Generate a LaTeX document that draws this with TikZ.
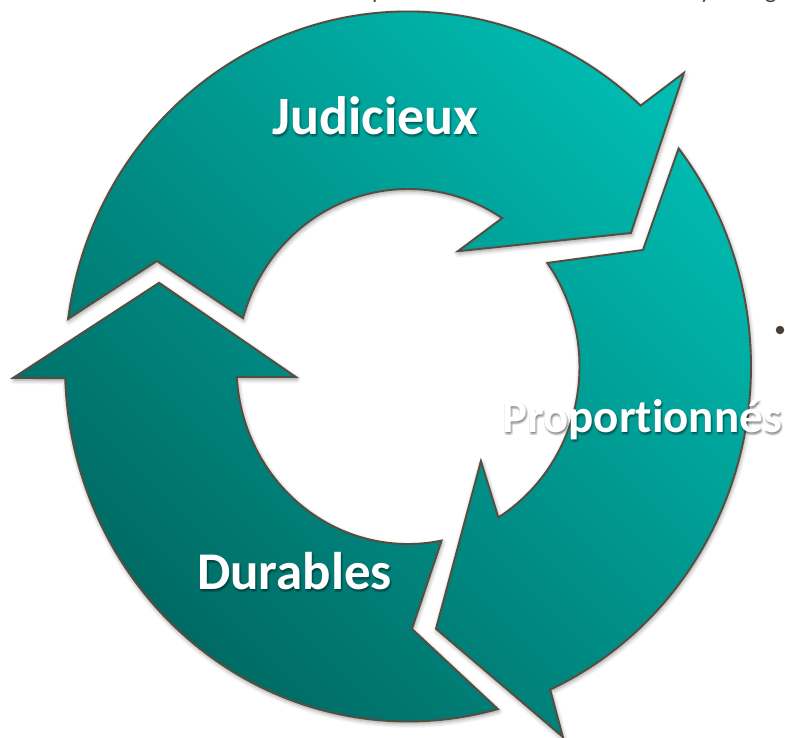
\documentclass[tikz,border=0pt]{standalone}
\usepackage{fontspec}
\setmainfont{Carlito}[Ligatures=CommonOff]
\usetikzlibrary{shadows.blur}
\definecolor{tealL}{RGB}{0,188,178}
\definecolor{tealD}{RGB}{0,102,96}
\definecolor{edgec}{RGB}{88,76,62}
\definecolor{fragc}{RGB}{70,62,52}
\tikzset{
  ring/.style={draw=edgec, line width=1.9pt, line join=miter,
    top color=tealL, bottom color=tealD, shading angle=-45,
    blur shadow={shadow xshift=0.8pt, shadow yshift=-2.2pt, shadow blur radius=4.5pt, shadow opacity=40, shadow blur steps=8}},
  lbl/.style={text=white, font=\bfseries\fontsize{#1}{#1}\selectfont, inner sep=0pt},
  lblglow/.style={text=black, text opacity=0.11, font=\bfseries\fontsize{#1}{#1}\selectfont, inner sep=0pt},
  frag/.style={text=fragc, font=\fontsize{24}{24}\selectfont, inner sep=0pt, anchor=base west}
}
\newcommand\glowlabel[6]{%
  \foreach \dx/\dy [count=\k] in {0/-1,2/-1,0/-3,2/-3,1/-2}
    {\node[lblglow=#4, anchor=#5] (#1g\k) at (#2+\dx,#3+\dy) {#6};}
  \node[lbl=#4, anchor=#5] (#1) at (#2,#3) {#6};
}
\begin{document}
\begin{tikzpicture}[x=1pt,y=1pt]
\useasboundingbox (0,0) rectangle (785,-738);
\begin{scope}[shift={(408,-366.5)}, yscale=1.035]
\shadedraw[ring]
  (172.3:343) arc[start angle=172.3, end angle=47.3, radius=343]
  -- (45.8:395.7) -- (30.05:257.6) -- (65.9:122) -- (56.7:171.5)
  arc[start angle=56.7, end angle=164.2, radius=171.5] -- (157.9:271) -- cycle
  (37.9:343) arc[start angle=37.9, end angle=-65.5, radius=343]
  -- (-66.6:390) -- (-83.7:255) -- (-51.4:116.9) -- (-58.2:171.5)
  arc[start angle=-58.2, end angle=35.7, radius=171.5] -- (25.6:260.6) -- cycle
  (-74.8:343) arc[start angle=-74.8, end angle=-178.1, radius=343]
  -- (-178.4:395) -- (-198:261.7) -- (-174.8:112.5) -- (-176.6:171.5)
  arc[start angle=-176.6, end angle=-78.7, radius=171.5] -- (-89.1:253.6) -- cycle;
\end{scope}
\glowlabel{judicieux}{375.5}{-135}{54}{base}{Judicieux}
\glowlabel{durables}{294.5}{-589}{53}{base}{Durables}
\glowlabel{proportionnes}{502}{-432}{47}{base west}{Proportionnés}
\node[circle, fill=fragc, inner sep=0pt, minimum size=8.5pt] (bullet) at (780,-330) {};
\node[frag] (fragp) at (372,1) {p};
\node[frag] (fragy) at (700,1) {y};
\node[frag] (fragg) at (765,1) {g};
\end{tikzpicture}
\end{document}
